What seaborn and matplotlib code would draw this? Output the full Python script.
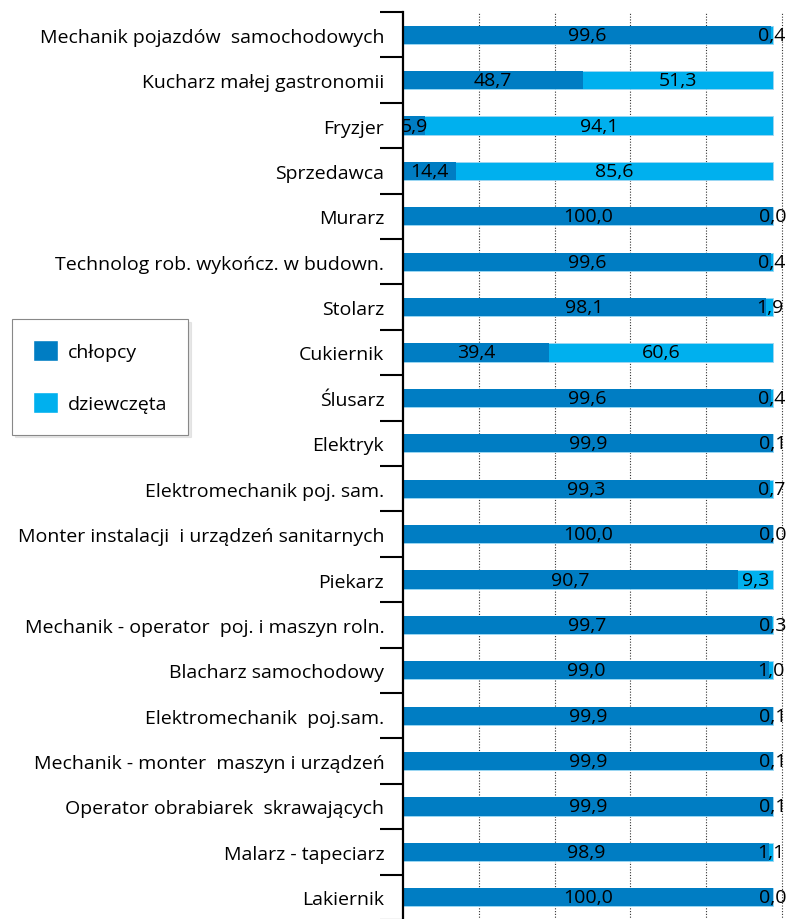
import pandas as pd
import matplotlib.pyplot as plt
import seaborn as sns
import numpy as np
from matplotlib.patches import Patch

# zawody i udział (%) chłopców / dziewcząt
zawody = [
    'Mechanik pojazdów  samochodowych',
    'Kucharz małej gastronomii',
    'Fryzjer',
    'Sprzedawca',
    'Murarz',
    'Technolog rob. wykończ. w budown.',
    'Stolarz',
    'Cukiernik',
    'Ślusarz',
    'Elektryk',
    'Elektromechanik poj. sam.',
    'Monter instalacji  i urządzeń sanitarnych',
    'Piekarz',
    'Mechanik - operator  poj. i maszyn roln.',
    'Blacharz samochodowy',
    'Elektromechanik  poj.sam.',
    'Mechanik - monter  maszyn i urządzeń',
    'Operator obrabiarek  skrawających',
    'Malarz - tapeciarz',
    'Lakiernik',
]
chlopcy = [99.6, 48.7, 5.9, 14.4, 100.0, 99.6, 98.1, 39.4, 99.6, 99.9,
           99.3, 100.0, 90.7, 99.7, 99.0, 99.9, 99.9, 99.9, 98.9, 100.0]
dziewczeta = [0.4, 51.3, 94.1, 85.6, 0.0, 0.4, 1.9, 60.6, 0.4, 0.1,
              0.7, 0.0, 9.3, 0.3, 1.0, 0.1, 0.1, 0.1, 1.1, 0.0]

kolor_ch = '#007DC3'
kolor_dz = '#00B0EE'
fs = 14

df = pd.DataFrame({'zawod': zawody, 'chlopcy': chlopcy, 'dziewczeta': dziewczeta})
df['razem'] = df['chlopcy'] + df['dziewczeta']

sns.set_style('white')
plt.rcParams['font.family'] = ['Open Sans', 'DejaVu Sans']
plt.rcParams['text.color'] = 'black'
plt.rcParams['ytick.color'] = 'black'

fig = plt.figure(figsize=(7.91, 9.2), dpi=100)
ax = fig.add_axes([403 / 791, -1 / 920, 388 / 791, 908 / 920])

# stacked: full bar in light blue, boys part over it
sns.barplot(data=df, y='zawod', x='razem', color=kolor_dz, width=0.4,
            orient='h', ax=ax, saturation=1, edgecolor='#9fd6f2', linewidth=0.6)
sns.barplot(data=df, y='zawod', x='chlopcy', color=kolor_ch, width=0.4,
            orient='h', ax=ax, saturation=1, linewidth=0)

fmt = lambda v: f'{v:.1f}'.replace('.', ',')
for i, row in df.iterrows():
    ax.text(row['chlopcy'] / 2, i, fmt(row['chlopcy']), ha='center', va='center',
            fontsize=fs, color='black')
    ax.text(row['chlopcy'] + row['dziewczeta'] / 2, i, fmt(row['dziewczeta']),
            ha='center', va='center', fontsize=fs, color='black')

ax.set_xlim(0, 104.9)
ax.set_ylim(len(zawody) - 0.5, -0.5)
ax.set_xlabel('')
ax.set_ylabel('')

grid_step = 20.5
ax.set_xticks(np.arange(1, 6) * grid_step)
ax.set_xticklabels([])
ax.tick_params(axis='x', length=0)
ax.grid(axis='x', linestyle=(0, (1, 1.5)), color='#333333', linewidth=0.8)
ax.grid(axis='y', visible=False)
ax.set_axisbelow(True)

ax.set_yticks(np.arange(len(zawody)))
ax.set_yticklabels(zawody, fontsize=fs, color='black')
ax.set_yticks(np.arange(len(zawody) + 1) - 0.5, minor=True)
ax.tick_params(axis='y', which='major', left=False, pad=10)
ax.tick_params(axis='y', which='minor', left=True, length=16.5, width=1.5,
               color='black', direction='out')

for s in ['top', 'right', 'bottom']:
    ax.spines[s].set_visible(False)
ax.spines['left'].set_linewidth(1.6)
ax.spines['left'].set_color('black')

handles = [Patch(facecolor=kolor_ch, label='chłopcy'),
           Patch(facecolor=kolor_dz, label='dziewczęta')]
leg = ax.legend(handles=handles, loc='upper left',
                bbox_to_anchor=(12 / 791, 1 - 320 / 920), bbox_transform=fig.transFigure,
                fontsize=fs, frameon=True, shadow={'color': '#d8d8d8', 'alpha': 0.6},
                fancybox=False, handlelength=1.25, handleheight=1.25, labelspacing=1.6,
                borderpad=1.1, handletextpad=0.5, borderaxespad=0)
leg.get_frame().set_edgecolor('#888888')
leg.get_frame().set_linewidth(0.8)

fig.savefig('out.png', dpi=100)
